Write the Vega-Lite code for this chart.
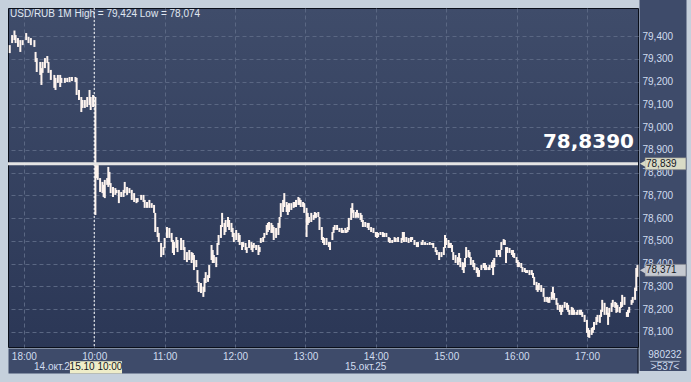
{
  "$schema": "https://vega.github.io/schema/vega-lite/v6.json",
  "width": 630,
  "height": 339,
  "autosize": {"type": "none"},
  "padding": {"left": 8, "top": 8, "right": 53, "bottom": 35},
  "background": "#c5d0dc",
  "resolve": {"axis": {"x": "independent", "y": "independent"}},
  "config": {
    "view": {
      "fill": {"gradient": "linear", "x1": 0, "y1": 0, "x2": 0, "y2": 1, "stops": [{"offset": 0, "color": "#3f4c6a"}, {"offset": 1, "color": "#2b3756"}]},
      "stroke": "#0a0f1a",
      "strokeWidth": 1
    },
    "axis": {
      "gridColor": "#5a6783",
      "gridDash": [4, 3],
      "gridWidth": 1,
      "ticks": false,
      "title": null,
      "labelColor": "#d0dcef",
      "labelFont": "Liberation Sans",
      "labelFontSize": 10,
      "labelOverlap": false,
      "labelFlush": false,
      "domainColor": "#3e4b6a"
    }
  },
  "datasets": {
    "bars": [
      {"m":-12,"lo":79.325,"hi":79.36},{"m":-10,"lo":79.369,"hi":79.404},{"m":-8,"lo":79.382,"hi":79.424},{"m":-7,"lo":79.369,"hi":79.404},{"m":-5,"lo":79.352,"hi":79.391},{"m":-3,"lo":79.33,"hi":79.382},{"m":-1,"lo":79.36,"hi":79.382},{"m":2,"lo":79.382,"hi":79.413},{"m":4,"lo":79.369,"hi":79.396},{"m":6,"lo":79.36,"hi":79.391},{"m":9,"lo":79.352,"hi":79.382},{"m":10,"lo":79.286,"hi":79.33},{"m":11,"lo":79.242,"hi":79.303},{"m":14,"lo":79.229,"hi":79.286},{"m":15,"lo":79.185,"hi":79.259},{"m":16,"lo":79.238,"hi":79.286},{"m":18,"lo":79.259,"hi":79.303},{"m":20,"lo":79.281,"hi":79.312},{"m":21,"lo":79.238,"hi":79.286},{"m":23,"lo":79.207,"hi":79.251},{"m":26,"lo":79.172,"hi":79.229},{"m":27,"lo":79.163,"hi":79.216},{"m":29,"lo":79.194,"hi":79.229},{"m":31,"lo":79.176,"hi":79.229},{"m":32,"lo":79.194,"hi":79.216},{"m":35,"lo":79.194,"hi":79.216},{"m":37,"lo":79.198,"hi":79.216},{"m":39,"lo":79.198,"hi":79.22},{"m":41,"lo":79.202,"hi":79.22},{"m":44,"lo":79.198,"hi":79.22},{"m":45,"lo":79.141,"hi":79.216},{"m":47,"lo":79.119,"hi":79.163},{"m":49,"lo":79.066,"hi":79.132},{"m":50,"lo":79.084,"hi":79.119},{"m":52,"lo":79.084,"hi":79.119},{"m":54,"lo":79.088,"hi":79.132},{"m":56,"lo":79.097,"hi":79.163},{"m":57,"lo":79.075,"hi":79.132},{"m":59,"lo":79.088,"hi":79.141},{"m":61,"lo":78.614,"hi":79.132},
      {"m":62,"lo":78.776,"hi":78.833},{"m":63,"lo":78.768,"hi":78.833},{"m":65,"lo":78.715,"hi":78.776},{"m":67,"lo":78.71,"hi":78.759},{"m":68,"lo":78.693,"hi":78.746},{"m":69,"lo":78.688,"hi":78.768},{"m":71,"lo":78.746,"hi":78.776},{"m":72,"lo":78.737,"hi":78.825},{"m":73,"lo":78.746,"hi":78.803},{"m":74,"lo":78.71,"hi":78.754},{"m":76,"lo":78.693,"hi":78.737},{"m":78,"lo":78.702,"hi":78.732},{"m":79,"lo":78.71,"hi":78.724},{"m":81,"lo":78.666,"hi":78.724},{"m":83,"lo":78.693,"hi":78.715},{"m":85,"lo":78.693,"hi":78.724},{"m":86,"lo":78.71,"hi":78.759},{"m":88,"lo":78.702,"hi":78.737},{"m":90,"lo":78.71,"hi":78.732},{"m":92,"lo":78.68,"hi":78.724},{"m":94,"lo":78.671,"hi":78.71},{"m":96,"lo":78.666,"hi":78.688},{"m":97,"lo":78.671,"hi":78.688},{"m":100,"lo":78.68,"hi":78.702},{"m":102,"lo":78.671,"hi":78.702},{"m":103,"lo":78.645,"hi":78.68},{"m":105,"lo":78.645,"hi":78.671},{"m":107,"lo":78.645,"hi":78.68},{"m":109,"lo":78.645,"hi":78.666},{"m":111,"lo":78.623,"hi":78.658},{"m":112,"lo":78.539,"hi":78.623},{"m":114,"lo":78.517,"hi":78.561},{"m":115,"lo":78.495,"hi":78.535},{"m":117,"lo":78.429,"hi":78.491},{"m":119,"lo":78.438,"hi":78.473},{"m":120,"lo":78.469,"hi":78.513},{"m":122,"lo":78.513,"hi":78.561},{"m":124,"lo":78.513,"hi":78.557},{"m":126,"lo":78.495,"hi":78.535},{"m":127,"lo":78.447,"hi":78.504},{"m":128,"lo":78.438,"hi":78.495},{"m":130,"lo":78.469,"hi":78.517},{"m":131,"lo":78.451,"hi":78.504},{"m":134,"lo":78.46,"hi":78.513},{"m":136,"lo":78.46,"hi":78.504},{"m":137,"lo":78.416,"hi":78.473},{"m":139,"lo":78.407,"hi":78.451},{"m":141,"lo":78.416,"hi":78.46},{"m":143,"lo":78.403,"hi":78.451},{"m":144,"lo":78.416,"hi":78.447},{"m":145,"lo":78.372,"hi":78.438},{"m":147,"lo":78.385,"hi":78.416},{"m":148,"lo":78.315,"hi":78.372},{"m":149,"lo":78.276,"hi":78.32},{"m":151,"lo":78.271,"hi":78.315},{"m":153,"lo":78.254,"hi":78.298},{"m":154,"lo":78.276,"hi":78.337},{"m":155,"lo":78.315,"hi":78.363},{"m":157,"lo":78.32,"hi":78.35},{"m":158,"lo":78.337,"hi":78.394},{"m":160,"lo":78.416,"hi":78.482},{"m":161,"lo":78.403,"hi":78.46},{"m":162,"lo":78.403,"hi":78.438},{"m":164,"lo":78.385,"hi":78.429},{"m":165,"lo":78.438,"hi":78.491},{"m":166,"lo":78.482,"hi":78.526},{"m":168,"lo":78.513,"hi":78.57},{"m":169,"lo":78.561,"hi":78.623},{"m":171,"lo":78.526,"hi":78.579},{"m":172,"lo":78.539,"hi":78.592},{"m":174,"lo":78.561,"hi":78.605},{"m":175,"lo":78.548,"hi":78.592},{"m":177,"lo":78.539,"hi":78.579},{"m":178,"lo":78.517,"hi":78.557},{"m":179,"lo":78.495,"hi":78.535},{"m":181,"lo":78.504,"hi":78.548},{"m":183,"lo":78.495,"hi":78.535},{"m":184,"lo":78.482,"hi":78.526},{"m":186,"lo":78.46,"hi":78.495},{"m":187,"lo":78.473,"hi":78.495},{"m":189,"lo":78.46,"hi":78.491},{"m":190,"lo":78.447,"hi":78.473},{"m":192,"lo":78.469,"hi":78.504},{"m":194,"lo":78.46,"hi":78.495},{"m":195,"lo":78.451,"hi":78.482},{"m":196,"lo":78.469,"hi":78.491},{"m":198,"lo":78.46,"hi":78.482},{"m":200,"lo":78.438,"hi":78.482},{"m":201,"lo":78.451,"hi":78.473},{"m":202,"lo":78.491,"hi":78.513},{"m":204,"lo":78.495,"hi":78.517},{"m":205,"lo":78.513,"hi":78.535},{"m":207,"lo":78.526,"hi":78.57},{"m":208,"lo":78.539,"hi":78.579},{"m":209,"lo":78.548,"hi":78.583},{"m":211,"lo":78.535,"hi":78.579},{"m":212,"lo":78.535,"hi":78.57},{"m":213,"lo":78.504,"hi":78.561},{"m":215,"lo":78.513,"hi":78.557},{"m":217,"lo":78.526,"hi":78.579},{"m":218,"lo":78.557,"hi":78.605},{"m":219,"lo":78.605,"hi":78.666},{"m":221,"lo":78.627,"hi":78.68},{"m":222,"lo":78.649,"hi":78.71},{"m":224,"lo":78.627,"hi":78.671},{"m":225,"lo":78.614,"hi":78.658},{"m":226,"lo":78.627,"hi":78.666},{"m":228,"lo":78.636,"hi":78.666},{"m":230,"lo":78.645,"hi":78.671},{"m":231,"lo":78.649,"hi":78.671},{"m":232,"lo":78.649,"hi":78.68},{"m":234,"lo":78.658,"hi":78.693},{"m":235,"lo":78.658,"hi":78.688},{"m":236,"lo":78.649,"hi":78.68},{"m":238,"lo":78.649,"hi":78.671},{"m":239,"lo":78.623,"hi":78.666},{"m":241,"lo":78.517,"hi":78.645},{"m":242,"lo":78.57,"hi":78.623},{"m":243,"lo":78.579,"hi":78.605},{"m":245,"lo":78.583,"hi":78.623},{"m":247,"lo":78.592,"hi":78.614},{"m":248,"lo":78.601,"hi":78.627},{"m":249,"lo":78.601,"hi":78.623},{"m":251,"lo":78.605,"hi":78.627},{"m":252,"lo":78.548,"hi":78.605},{"m":254,"lo":78.504,"hi":78.561},{"m":255,"lo":78.491,"hi":78.517},{"m":256,"lo":78.482,"hi":78.513},{"m":258,"lo":78.482,"hi":78.513},{"m":260,"lo":78.473,"hi":78.495},{"m":261,"lo":78.46,"hi":78.495},{"m":263,"lo":78.504,"hi":78.539},{"m":264,"lo":78.535,"hi":78.561},{"m":265,"lo":78.548,"hi":78.57},{"m":267,"lo":78.548,"hi":78.57},{"m":269,"lo":78.539,"hi":78.557},{"m":271,"lo":78.535,"hi":78.557},{"m":272,"lo":78.535,"hi":78.548},{"m":274,"lo":78.535,"hi":78.557},{"m":275,"lo":78.535,"hi":78.548},{"m":276,"lo":78.539,"hi":78.561},{"m":277,"lo":78.548,"hi":78.601},{"m":279,"lo":78.592,"hi":78.645},{"m":280,"lo":78.623,"hi":78.666},{"m":281,"lo":78.601,"hi":78.636},{"m":283,"lo":78.601,"hi":78.627},{"m":284,"lo":78.605,"hi":78.636},{"m":285,"lo":78.601,"hi":78.623},{"m":287,"lo":78.592,"hi":78.623},{"m":288,"lo":78.583,"hi":78.614},{"m":289,"lo":78.561,"hi":78.592},{"m":291,"lo":78.561,"hi":78.583},{"m":293,"lo":78.557,"hi":78.579},{"m":294,"lo":78.548,"hi":78.579},{"m":296,"lo":78.539,"hi":78.561},{"m":298,"lo":78.535,"hi":78.557},{"m":300,"lo":78.517,"hi":78.539},{"m":301,"lo":78.513,"hi":78.539},{"m":302,"lo":78.517,"hi":78.535},{"m":304,"lo":78.526,"hi":78.539},{"m":306,"lo":78.517,"hi":78.539},{"m":307,"lo":78.517,"hi":78.535},{"m":309,"lo":78.517,"hi":78.535},{"m":311,"lo":78.495,"hi":78.517},{"m":312,"lo":78.491,"hi":78.513},{"m":314,"lo":78.491,"hi":78.504},{"m":316,"lo":78.495,"hi":78.517},{"m":317,"lo":78.495,"hi":78.513},{"m":319,"lo":78.495,"hi":78.517},{"m":322,"lo":78.491,"hi":78.513},{"m":323,"lo":78.504,"hi":78.539},{"m":324,"lo":78.495,"hi":78.539},{"m":326,"lo":78.495,"hi":78.517},{"m":328,"lo":78.491,"hi":78.513},{"m":330,"lo":78.495,"hi":78.517},{"m":331,"lo":78.504,"hi":78.517},{"m":333,"lo":78.482,"hi":78.504},{"m":335,"lo":78.473,"hi":78.495},{"m":336,"lo":78.473,"hi":78.495},{"m":339,"lo":78.482,"hi":78.495},{"m":340,"lo":78.482,"hi":78.504},{"m":342,"lo":78.482,"hi":78.495},{"m":344,"lo":78.482,"hi":78.491},{"m":346,"lo":78.482,"hi":78.495},{"m":348,"lo":78.482,"hi":78.491},{"m":349,"lo":78.469,"hi":78.491},{"m":351,"lo":78.451,"hi":78.473},{"m":352,"lo":78.438,"hi":78.46},{"m":354,"lo":78.416,"hi":78.451},{"m":356,"lo":78.429,"hi":78.451},{"m":358,"lo":78.438,"hi":78.473},{"m":359,"lo":78.469,"hi":78.526},{"m":360,"lo":78.482,"hi":78.513},{"m":362,"lo":78.469,"hi":78.504},{"m":363,"lo":78.469,"hi":78.491},{"m":364,"lo":78.469,"hi":78.491},{"m":365,"lo":78.451,"hi":78.482},{"m":366,"lo":78.416,"hi":78.451},{"m":368,"lo":78.403,"hi":78.438},{"m":370,"lo":78.394,"hi":78.429},{"m":371,"lo":78.407,"hi":78.447},{"m":372,"lo":78.385,"hi":78.425},{"m":374,"lo":78.372,"hi":78.407},{"m":375,"lo":78.359,"hi":78.403},{"m":376,"lo":78.385,"hi":78.425},{"m":377,"lo":78.425,"hi":78.473},{"m":379,"lo":78.429,"hi":78.46},{"m":380,"lo":78.425,"hi":78.451},{"m":381,"lo":78.394,"hi":78.429},{"m":383,"lo":78.385,"hi":78.416},{"m":384,"lo":78.372,"hi":78.403},{"m":386,"lo":78.359,"hi":78.385},{"m":387,"lo":78.342,"hi":78.381},{"m":388,"lo":78.342,"hi":78.372},{"m":390,"lo":78.372,"hi":78.394},{"m":392,"lo":78.381,"hi":78.403},{"m":393,"lo":78.372,"hi":78.403},{"m":394,"lo":78.372,"hi":78.394},{"m":396,"lo":78.372,"hi":78.385},{"m":397,"lo":78.372,"hi":78.394},{"m":399,"lo":78.381,"hi":78.407},{"m":400,"lo":78.35,"hi":78.416},{"m":401,"lo":78.385,"hi":78.425},{"m":403,"lo":78.429,"hi":78.46},{"m":405,"lo":78.438,"hi":78.46},{"m":406,"lo":78.429,"hi":78.46},{"m":407,"lo":78.46,"hi":78.495},{"m":409,"lo":78.482,"hi":78.508},{"m":410,"lo":78.482,"hi":78.504},{"m":411,"lo":78.403,"hi":78.473},{"m":412,"lo":78.447,"hi":78.473},{"m":414,"lo":78.447,"hi":78.469},{"m":416,"lo":78.438,"hi":78.46},{"m":417,"lo":78.429,"hi":78.46},{"m":418,"lo":78.425,"hi":78.447},{"m":420,"lo":78.403,"hi":78.429},{"m":421,"lo":78.385,"hi":78.416},{"m":422,"lo":78.385,"hi":78.407},{"m":424,"lo":78.381,"hi":78.403},{"m":425,"lo":78.363,"hi":78.385},{"m":427,"lo":78.363,"hi":78.381},{"m":428,"lo":78.359,"hi":78.372},{"m":429,"lo":78.359,"hi":78.372},{"m":431,"lo":78.35,"hi":78.372},{"m":433,"lo":78.35,"hi":78.372},{"m":434,"lo":78.337,"hi":78.359},{"m":435,"lo":78.306,"hi":78.342},{"m":437,"lo":78.284,"hi":78.32},{"m":438,"lo":78.276,"hi":78.306},{"m":439,"lo":78.284,"hi":78.315},{"m":441,"lo":78.276,"hi":78.306},{"m":443,"lo":78.254,"hi":78.293},{"m":444,"lo":78.232,"hi":78.254},{"m":446,"lo":78.232,"hi":78.254},{"m":447,"lo":78.228,"hi":78.249},{"m":448,"lo":78.228,"hi":78.254},{"m":450,"lo":78.241,"hi":78.276},{"m":451,"lo":78.249,"hi":78.298},{"m":452,"lo":78.241,"hi":78.271},{"m":454,"lo":78.219,"hi":78.249},{"m":455,"lo":78.197,"hi":78.228},{"m":457,"lo":78.188,"hi":78.219},{"m":458,"lo":78.175,"hi":78.21},{"m":459,"lo":78.188,"hi":78.219},{"m":461,"lo":78.206,"hi":78.232},{"m":463,"lo":78.197,"hi":78.228},{"m":464,"lo":78.188,"hi":78.219},{"m":465,"lo":78.175,"hi":78.197},{"m":467,"lo":78.175,"hi":78.21},{"m":468,"lo":78.175,"hi":78.206},{"m":469,"lo":78.175,"hi":78.197},{"m":471,"lo":78.175,"hi":78.188},{"m":472,"lo":78.175,"hi":78.197},{"m":474,"lo":78.175,"hi":78.197},{"m":475,"lo":78.175,"hi":78.197},{"m":476,"lo":78.166,"hi":78.188},{"m":478,"lo":78.144,"hi":78.175},{"m":480,"lo":78.096,"hi":78.153},{"m":481,"lo":78.078,"hi":78.118},{"m":482,"lo":78.074,"hi":78.109},{"m":484,"lo":78.087,"hi":78.118},{"m":485,"lo":78.096,"hi":78.122},{"m":486,"lo":78.109,"hi":78.144},{"m":488,"lo":78.131,"hi":78.166},{"m":489,"lo":78.144,"hi":78.175},{"m":491,"lo":78.14,"hi":78.175},{"m":492,"lo":78.166,"hi":78.197},{"m":493,"lo":78.188,"hi":78.241},{"m":495,"lo":78.175,"hi":78.228},{"m":497,"lo":78.175,"hi":78.21},{"m":498,"lo":78.131,"hi":78.184},{"m":499,"lo":78.166,"hi":78.206},{"m":501,"lo":78.188,"hi":78.228},{"m":502,"lo":78.21,"hi":78.241},{"m":504,"lo":78.206,"hi":78.232},{"m":505,"lo":78.184,"hi":78.228},{"m":506,"lo":78.188,"hi":78.219},{"m":508,"lo":78.184,"hi":78.21},{"m":509,"lo":78.206,"hi":78.232},{"m":510,"lo":78.21,"hi":78.263},{"m":512,"lo":78.219,"hi":78.254},{"m":514,"lo":78.166,"hi":78.188},{"m":515,"lo":78.166,"hi":78.197},{"m":516,"lo":78.184,"hi":78.21},{"m":518,"lo":78.219,"hi":78.241},{"m":519,"lo":78.228,"hi":78.254},{"m":521,"lo":78.241,"hi":78.295},{"m":522,"lo":78.28,"hi":78.381},{"m":523,"lo":78.342,"hi":78.394}
    ],
    "tags": [
      {"price": 78.839, "lo": 78.8126, "hi": 78.8654, "label": "78,839", "kind": "cur"},
      {"price": 78.371, "lo": 78.3446, "hi": 78.3974, "label": "78,371", "kind": "last"}
    ],
    "dates": [
      {"m": 8.7, "label": "14.окт.25"},
      {"m": 273.7, "label": "15.окт.25"}
    ]
  },
  "layer": [
    {
      "data": {"values": [{}]},
      "mark": {"type": "rule", "opacity": 0},
      "encoding": {
        "x": {"datum": 100, "type": "quantitative", "axis": {"orient": "bottom", "labels": false, "grid": false, "domain": true, "domainWidth": 25, "domainCap": "butt", "offset": 13.5}},
        "y": {"datum": 78.5, "type": "quantitative", "axis": {"orient": "right", "labels": false, "grid": false, "domain": true, "domainWidth": 47, "domainCap": "square", "offset": 24.5}}
      }
    },
    {
      "data": {"name": "bars"},
      "mark": {"type": "rule", "color": "#fdf3ee", "strokeWidth": 2},
      "encoding": {
        "x": {
          "field": "m", "type": "quantitative",
          "scale": {"domain": [-13.5, 523.5], "nice": false, "zero": false},
          "axis": {
            "orient": "bottom",
            "values": [0, 60, 120, 180, 240, 300, 360, 420, 480],
            "labelExpr": "datum.value == 0 ? '18:00' : (9 + datum.value / 60) + ':00'",
            "grid": true,
            "domain": false,
            "labelPadding": 4,
            "labelBaseline": "top",
            "labelAlign": "center"
          }
        },
        "y": {
          "field": "lo", "type": "quantitative",
          "scale": {"domain": [78.034, 79.523], "nice": false, "zero": false},
          "axis": {
            "orient": "right",
            "values": [78.1, 78.2, 78.3, 78.4, 78.5, 78.6, 78.7, 78.8, 78.9, 79.0, 79.1, 79.2, 79.3, 79.4],
            "labelExpr": "replace(format(datum.value, '.3f'), '.', ',')",
            "grid": true,
            "domain": false,
            "labelPadding": 4,
            "labelAlign": "left",
            "labelBaseline": "middle"
          }
        },
        "y2": {"field": "hi"}
      }
    },
    {
      "data": {"values": [{}]},
      "mark": {"type": "rule", "color": "#ffffff", "strokeWidth": 1, "strokeDash": [2, 2]},
      "encoding": {"x": {"datum": 60, "axis": null}}
    },
    {
      "data": {"values": [{}]},
      "mark": {"type": "rule", "color": "#e4e4e4", "strokeWidth": 3},
      "encoding": {"y": {"datum": 78.839, "axis": null}}
    },
    {
      "data": {"values": [{"label": "78,8390"}]},
      "mark": {"type": "text", "align": "right", "baseline": "alphabetic", "dx": -4, "dy": -16, "font": "DejaVu Sans", "fontWeight": "bold", "fontSize": 20, "color": "#ffffff"},
      "encoding": {"x": {"datum": 523.5, "axis": null}, "y": {"datum": 78.839, "axis": null}, "text": {"field": "label"}}
    },
    {
      "data": {"values": [{"label": "USD/RUB 1M High = 79,424 Low = 78,074"}]},
      "mark": {"type": "text", "align": "left", "baseline": "middle", "dx": 2, "dy": 6, "font": "Liberation Sans", "fontSize": 10, "color": "#e0e8f2"},
      "encoding": {"x": {"datum": -13.5, "axis": null}, "y": {"datum": 79.523, "axis": null}, "text": {"field": "label"}}
    },
    {
      "data": {"name": "tags"},
      "mark": {"type": "rect", "stroke": "#6b6f78", "strokeWidth": 0.6},
      "encoding": {
        "x": {"datum": 529.5, "axis": null}, "x2": {"datum": 564.4},
        "y": {"field": "lo", "type": "quantitative", "axis": null}, "y2": {"field": "hi"},
        "color": {"field": "kind", "type": "nominal", "scale": {"domain": ["cur", "last"], "range": ["#d9dbc6", "#c4c8d0"]}, "legend": null}
      }
    },
    {
      "data": {"name": "tags"},
      "mark": {"type": "point", "shape": "triangle-left", "filled": true, "size": 45, "opacity": 1},
      "encoding": {
        "x": {"datum": 527.6, "axis": null},
        "y": {"field": "price", "type": "quantitative", "axis": null},
        "color": {"field": "kind", "type": "nominal", "scale": {"domain": ["cur", "last"], "range": ["#d9dbc6", "#c4c8d0"]}, "legend": null}
      }
    },
    {
      "data": {"name": "tags"},
      "mark": {"type": "text", "align": "left", "baseline": "middle", "font": "Liberation Sans", "fontSize": 10, "color": "#15181e"},
      "encoding": {"x": {"datum": 530.3, "axis": null}, "y": {"field": "price", "type": "quantitative", "axis": null}, "text": {"field": "label"}}
    },
    {
      "data": {"values": [{}]},
      "mark": {"type": "rule", "color": "#0a0f1a", "strokeWidth": 1},
      "encoding": {"x": {"datum": 523.5, "axis": null}, "y": {"datum": 78.034, "axis": null}, "y2": {"datum": 77.918}}
    },
    {
      "data": {"name": "dates"},
      "mark": {"type": "text", "align": "left", "baseline": "middle", "font": "Liberation Sans", "fontSize": 10, "color": "#d0dcef"},
      "encoding": {"x": {"field": "m", "type": "quantitative", "axis": null}, "y": {"datum": 77.944, "axis": null}, "text": {"field": "label"}}
    },
    {
      "data": {"values": [{}]},
      "mark": {"type": "rect", "color": "#efedc9"},
      "encoding": {"x": {"datum": 39.3, "axis": null}, "x2": {"datum": 83.7}, "y": {"datum": 77.971, "axis": null}, "y2": {"datum": 77.918}}
    },
    {
      "data": {"values": [{"label": "15.10 10:00"}]},
      "mark": {"type": "text", "align": "center", "baseline": "middle", "font": "Liberation Sans", "fontSize": 10, "color": "#15181e"},
      "encoding": {"x": {"datum": 61.5, "axis": null}, "y": {"datum": 77.944, "axis": null}, "text": {"field": "label"}}
    },
    {
      "data": {"values": [{"label": "980232", "p": 77.997}, {"label": ">537<", "p": 77.944}]},
      "mark": {"type": "text", "align": "center", "baseline": "middle", "font": "Liberation Sans", "fontSize": 10, "color": "#d0dcef"},
      "encoding": {"x": {"datum": 546.5, "axis": null}, "y": {"field": "p", "type": "quantitative", "axis": null}, "text": {"field": "label"}}
    },
    {
      "data": {"values": [{}]},
      "mark": {"type": "rule", "color": "#a9b6ca", "strokeWidth": 1},
      "encoding": {"x": {"datum": 534, "axis": null}, "x2": {"datum": 559}, "y": {"datum": 77.971, "axis": null}}
    }
  ]
}
